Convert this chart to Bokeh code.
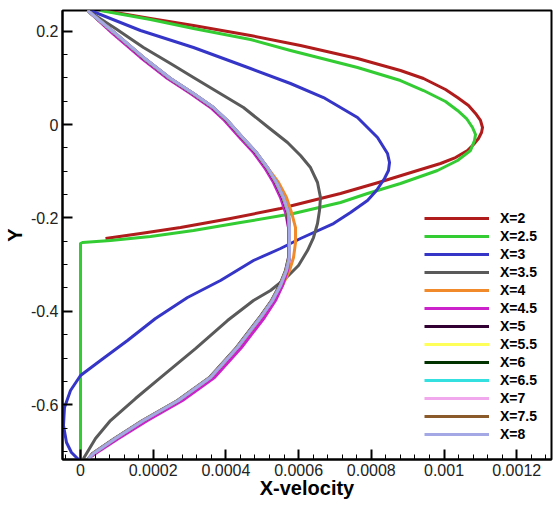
from bokeh.plotting import figure
from bokeh.models import FixedTicker, CustomJSTickFormatter, Legend, LegendItem, Range1d
from bokeh.embed import file_html
from bokeh.resources import INLINE

# ---- data (X-velocity, Y) ----
x_2 = [0.0000633, 0.0001926, 0.0003109, 0.0004677, 0.0006052, 0.0007620, 0.0008803, 0.0009436, 0.0010041, 0.0010371,
       0.0010674, 0.0010867, 0.0011004, 0.0011059, 0.0011032, 0.0010949, 0.0010812, 0.0010646, 0.0010316, 0.0009904,
       0.0009271, 0.0008198, 0.0007153, 0.0005502, 0.0004127, 0.0002751, 0.0001651, 0.0000688]
y_2 = [0.2441, 0.2270, 0.2120, 0.1906, 0.1692, 0.1413, 0.1156, 0.0985, 0.0749, 0.0578,
       0.0407, 0.0236, 0.0086, -0.0064, -0.0171, -0.0300, -0.0428, -0.0557, -0.0707, -0.0835,
       -0.0985, -0.1242, -0.1478, -0.1799, -0.2013, -0.2206, -0.2334, -0.2441]

x_25 = [0.0000550, 0.0001926, 0.0003109, 0.0004677, 0.0005777, 0.0007620, 0.0008803, 0.0009436, 0.0010041, 0.0010371,
        0.0010619, 0.0010784, 0.0010867, 0.0010839, 0.0010729, 0.0010371, 0.0009821, 0.0008803, 0.0007895, 0.0007153,
        0.0005860, 0.0004402, 0.0003109, 0.0001926, 0.0000825, 0.0000055, 0.0, 0.0]
y_25 = [0.2441, 0.2248, 0.2056, 0.1820, 0.1585, 0.1221, 0.0942, 0.0728, 0.0493, 0.0300,
        0.0128, -0.0064, -0.0214, -0.0343, -0.0557, -0.0771, -0.0985, -0.1263, -0.1478, -0.1670,
        -0.1906, -0.2099, -0.2270, -0.2398, -0.2484, -0.2527, -0.2548, -0.7173]

x_3 = [0.0000275, 0.0001651, 0.0003109, 0.0004677, 0.0005777, 0.0006685, 0.0007620, 0.0008171, 0.0008446, 0.0008501,
       0.0008473, 0.0008363, 0.0008143, 0.0007895, 0.0007428, 0.0006960, 0.0006052, 0.0005502, 0.0004759, 0.0003851,
       0.0002944, 0.0002063, 0.0001293, 0.0000550, 0.0, -0.0000275, -0.0000440, -0.0000468, -0.0000385, -0.0000248,
       -0.0000055]
y_3 = [0.2441, 0.2013, 0.1649, 0.1199, 0.0878, 0.0578, 0.0150, -0.0278, -0.0621, -0.0814,
       -0.0985, -0.1156, -0.1413, -0.1627, -0.1884, -0.2120, -0.2441, -0.2655, -0.2912, -0.3340,
       -0.3704, -0.4154, -0.4625, -0.5054, -0.5375, -0.5696, -0.6060, -0.6445, -0.6809, -0.7024,
       -0.7173]

x_35 = [0.0000193, 0.0000963, 0.0001733, 0.0002476, 0.0003109, 0.0003796, 0.0004484, 0.0005172, 0.0005695, 0.0006052,
        0.0006327, 0.0006520, 0.0006602, 0.0006575, 0.0006520, 0.0006410, 0.0006245, 0.0005997, 0.0005640, 0.0005227,
        0.0004759, 0.0004044, 0.0003164, 0.0002201, 0.0001513, 0.0000825, 0.0000413, 0.0000083]
y_35 = [0.2441, 0.2056, 0.1649, 0.1306, 0.1006, 0.0685, 0.0364, -0.0064, -0.0385, -0.0664,
        -0.0921, -0.1242, -0.1563, -0.1842, -0.2120, -0.2420, -0.2698, -0.3019, -0.3298, -0.3555,
        -0.3769, -0.4197, -0.4797, -0.5418, -0.5867, -0.6338, -0.6724, -0.7152]

# X=4 ... X=8 share the same Y stations
y_late = [0.2441, 0.1949, 0.1435, 0.0985, 0.0664, 0.0364, 0.0086, -0.0300, -0.0600, -0.0921,
          -0.1242, -0.1563, -0.1884, -0.2206, -0.2527, -0.2848, -0.3126, -0.3448, -0.3769, -0.4133,
          -0.4775, -0.5418, -0.5910, -0.6338, -0.6724, -0.7045, -0.7152]
x_4 = [0.0000193, 0.0000908, 0.0001678, 0.0002421, 0.0003054, 0.0003604, 0.0003989, 0.0004429, 0.0004814, 0.0005144,
       0.0005447, 0.0005667, 0.0005805, 0.0005915, 0.0005915, 0.0005860, 0.0005750, 0.0005557, 0.0005310, 0.0004979,
       0.0004347, 0.0003604, 0.0002724, 0.0001761, 0.0000963, 0.0000358, 0.0000220]
x_45 = [0.0000193, 0.0000880, 0.0001651, 0.0002393, 0.0003026, 0.0003576, 0.0003961, 0.0004402, 0.0004759, 0.0005062,
        0.0005310, 0.0005502, 0.0005640, 0.0005722, 0.0005750, 0.0005750, 0.0005695, 0.0005557, 0.0005365, 0.0005062,
        0.0004429, 0.0003686, 0.0002806, 0.0001843, 0.0001045, 0.0000413, 0.0000220]
x_5 = [0.0000193, 0.0000935, 0.0001706, 0.0002448, 0.0003081, 0.0003631, 0.0004016, 0.0004457, 0.0004814, 0.0005117,
       0.0005365, 0.0005557, 0.0005695, 0.0005722, 0.0005722, 0.0005722, 0.0005640, 0.0005475, 0.0005255, 0.0004924,
       0.0004292, 0.0003549, 0.0002669, 0.0001706, 0.0000935, 0.0000330, 0.0000220]
x_55 = [0.0000193, 0.0000950, 0.0001720, 0.0002462, 0.0003095, 0.0003645, 0.0004030, 0.0004470, 0.0004828, 0.0005130,
        0.0005378, 0.0005571, 0.0005708, 0.0005736, 0.0005736, 0.0005736, 0.0005653, 0.0005488, 0.0005268, 0.0004938,
        0.0004305, 0.0003562, 0.0002682, 0.0001720, 0.0000950, 0.0000344, 0.0000220]
x_6 = [0.0000193, 0.0000955, 0.0001725, 0.0002468, 0.0003100, 0.0003650, 0.0004035, 0.0004475, 0.0004833, 0.0005135,
       0.0005383, 0.0005576, 0.0005713, 0.0005741, 0.0005741, 0.0005741, 0.0005658, 0.0005493, 0.0005273, 0.0004943,
       0.0004310, 0.0003567, 0.0002687, 0.0001725, 0.0000955, 0.0000350, 0.0000220]
x_65 = [0.0000193, 0.0000958, 0.0001728, 0.0002471, 0.0003104, 0.0003654, 0.0004039, 0.0004479, 0.0004837, 0.0005139,
        0.0005387, 0.0005580, 0.0005717, 0.0005745, 0.0005745, 0.0005745, 0.0005662, 0.0005497, 0.0005277, 0.0004947,
        0.0004314, 0.0003571, 0.0002691, 0.0001728, 0.0000958, 0.0000353, 0.0000220]
x_7 = [0.0000193, 0.0000960, 0.0001730, 0.0002473, 0.0003106, 0.0003656, 0.0004041, 0.0004481, 0.0004839, 0.0005141,
       0.0005389, 0.0005582, 0.0005719, 0.0005747, 0.0005747, 0.0005747, 0.0005664, 0.0005499, 0.0005279, 0.0004949,
       0.0004316, 0.0003573, 0.0002693, 0.0001730, 0.0000960, 0.0000355, 0.0000220]
x_75 = [0.0000193, 0.0000962, 0.0001732, 0.0002475, 0.0003108, 0.0003658, 0.0004043, 0.0004483, 0.0004841, 0.0005143,
        0.0005391, 0.0005584, 0.0005721, 0.0005749, 0.0005749, 0.0005749, 0.0005666, 0.0005501, 0.0005281, 0.0004951,
        0.0004318, 0.0003575, 0.0002695, 0.0001732, 0.0000962, 0.0000357, 0.0000220]
x_8 = [0.0000193, 0.0000963, 0.0001733, 0.0002476, 0.0003109, 0.0003659, 0.0004044, 0.0004484, 0.0004842, 0.0005144,
       0.0005392, 0.0005585, 0.0005722, 0.0005750, 0.0005750, 0.0005750, 0.0005667, 0.0005502, 0.0005282, 0.0004952,
       0.0004319, 0.0003576, 0.0002696, 0.0001733, 0.0000963, 0.0000358, 0.0000220]

labels = ["X=2", "X=2.5", "X=3", "X=3.5", "X=4", "X=4.5", "X=5", "X=5.5", "X=6", "X=6.5", "X=7", "X=7.5", "X=8"]
colors = ["#B01C1C", "#33CC33", "#3535C8", "#5A5A5A", "#F08A2A", "#CC22CC", "#330033", "#FFFF5A",
          "#003300", "#35E0E0", "#F2A8EC", "#8B5A2B", "#A4A9E6"]
xs = [x_2, x_25, x_3, x_35, x_4, x_45, x_5, x_55, x_6, x_65, x_7, x_75, x_8]
ys = [y_2, y_25, y_3, y_35, y_late, y_late, y_late, y_late, y_late, y_late, y_late, y_late, y_late]

x_ticks = [0, 0.0002, 0.0004, 0.0006, 0.0008, 0.001, 0.0012]
y_ticks = [-0.6, -0.4, -0.2, 0, 0.2]
x_minor = [i * 0.00004 for i in range(-1, 33)]
y_minor = [-0.70 + i * 0.05 for i in range(0, 20)]

p = figure(width=553, height=508, output_backend="svg", toolbar_location=None,
           x_range=Range1d(-0.0000495, 0.0012957), y_range=Range1d(-0.7173, 0.2441),
           min_border_left=62, min_border_right=2, min_border_top=10, min_border_bottom=49)
p.background_fill_color = "white"
p.border_fill_color = "white"
p.outline_line_color = "black"
p.outline_line_width = 2
p.grid.visible = False

renderers = []
for xv, yv, c in zip(xs, ys, colors):
    r = p.line(xv, yv, line_color=c, line_width=3, line_join="round")
    renderers.append(r)

fmt = "return parseFloat(tick.toFixed(5)).toString();"
p.xaxis.ticker = FixedTicker(ticks=x_ticks, minor_ticks=x_minor)
p.yaxis.ticker = FixedTicker(ticks=y_ticks, minor_ticks=y_minor)
p.xaxis.formatter = CustomJSTickFormatter(code=fmt)
p.yaxis.formatter = CustomJSTickFormatter(code=fmt)
p.xaxis.axis_label = "X-velocity"
p.yaxis.axis_label = "Y"

for ax in (p.xaxis[0], p.yaxis[0]):
    ax.axis_line_color = "black"
    ax.axis_line_width = 2
    ax.major_tick_in = 10
    ax.major_tick_out = 0
    ax.minor_tick_in = 5
    ax.minor_tick_out = 0
    ax.major_tick_line_width = 2
    ax.major_tick_line_color = "black"
    ax.minor_tick_line_width = 1
    ax.minor_tick_line_color = "black"
    ax.major_label_text_font = "Liberation Sans"
    ax.major_label_text_font_size = "16px"
    ax.major_label_text_color = "#222222"
    ax.axis_label_text_font = "Liberation Sans"
    ax.axis_label_text_font_style = "bold"
    ax.axis_label_text_font_size = "20px"
    ax.axis_label_text_color = "black"
p.yaxis.major_label_standoff = 4
p.yaxis.axis_label_standoff = 2
p.xaxis.major_label_standoff = 4
p.xaxis.axis_label_standoff = -2

items = [LegendItem(label=l, renderers=[r]) for l, r in zip(labels, renderers)]
legend = Legend(items=items, location=(362, 16), glyph_width=65, glyph_height=18,
                label_height=18, spacing=0, padding=0, margin=0, label_standoff=11,
                border_line_color=None, background_fill_alpha=0,
                label_text_font="Liberation Sans", label_text_font_style="bold",
                label_text_font_size="14px", label_text_color="black")
p.add_layout(legend)

open("out.html", "w").write(file_html(p, INLINE))
